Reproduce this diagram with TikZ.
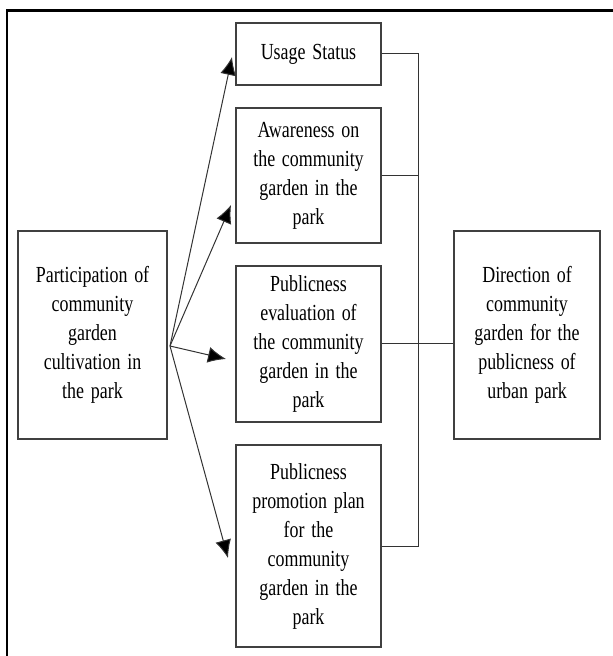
\documentclass[tikz,border=0pt]{standalone}
\usepackage{fontspec}
\setmainfont[FakeStretch=0.78,WordSpace=1.5]{Liberation Serif}
\usetikzlibrary{arrows.meta}
\begin{document}
\begin{tikzpicture}[x=0.5pt,y=-0.5pt,>={Latex[length=9pt,width=8pt,fill=black]},
	kasten/.style={draw=black!75,line width=0.6pt,align=center,inner sep=0pt,
		font=\fontsize{11.5pt}{14.5pt}\selectfont},
	linie/.style={draw=black!80,line width=0.5pt}]
\def\bw{72.5pt}
\useasboundingbox (0,0) rectangle (613,656);
\draw[line width=1.1pt] (613,10.5) -- (7,10.5) -- (7,656);
\node[kasten,minimum width=74.5pt,minimum height=104pt] (teil) at (92.5,335)
	{Participation of\\community\\garden\\cultivation in\\the park};
\node[kasten,minimum width=\bw,minimum height=31pt] (nutz) at (308.5,54)
	{Usage Status};
\node[kasten,minimum width=\bw,minimum height=67.5pt] (bewu) at (308.5,175.5)
	{Awareness on\\the community\\garden in the\\park};
\node[kasten,minimum width=\bw,minimum height=78pt] (bewe) at (308.5,344)
	{Publicness\\evaluation of\\the community\\garden in the\\park};
\node[kasten,minimum width=\bw,minimum height=101pt] (plan) at (308.5,546)
	{Publicness\\promotion plan\\for the\\community\\garden in the\\park};
\node[kasten,minimum width=73pt,minimum height=104pt] (ziel) at (527,335)
	{Direction of\\community\\garden for the\\publicness of\\urban park};
\coordinate (o) at (170,346);
\coordinate (s1) at (232,57);
\coordinate (s2) at (231,205);
\coordinate (s3) at (226,359);
\coordinate (s4) at (228,558);
\foreach \s in {s1,s2,s3,s4}{
	\draw[linie,->] (o) -- (\s);
}
\draw[linie] (nutz.east) -- ++(37,0) |- (plan.east);
\draw[linie] (bewu.east) -- ++(37,0);
\draw[linie] (bewe.east) -- (ziel.west |- bewe.east);
\end{tikzpicture}
\end{document}
